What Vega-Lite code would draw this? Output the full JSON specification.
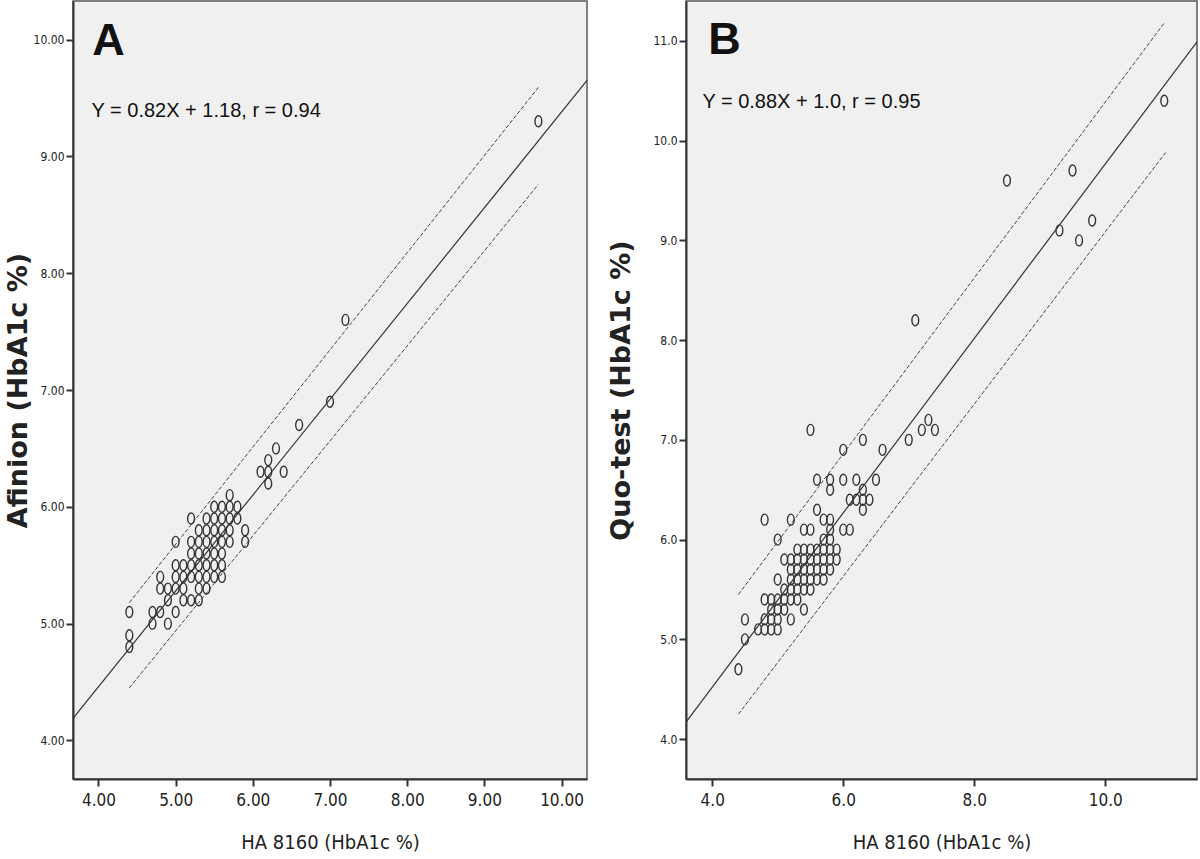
{
  "$schema": "https://vega.github.io/schema/vega-lite/v6.json",
  "background": "white",
  "padding": {"left": 3, "top": 0, "right": 0, "bottom": 0},
  "spacing": 99,
  "bounds": "flush",
  "datasets": {
    "pointsA": [
      {"x":4.4,"y":5.1},{"x":4.4,"y":4.9},{"x":4.4,"y":4.8},
      {"x":4.7,"y":5.1},{"x":4.7,"y":5.0},
      {"x":4.8,"y":5.4},{"x":4.8,"y":5.3},{"x":4.8,"y":5.1},
      {"x":4.9,"y":5.3},{"x":4.9,"y":5.2},{"x":4.9,"y":5.0},
      {"x":5.0,"y":5.7},{"x":5.0,"y":5.5},{"x":5.0,"y":5.4},{"x":5.0,"y":5.3},{"x":5.0,"y":5.1},
      {"x":5.1,"y":5.5},{"x":5.1,"y":5.4},{"x":5.1,"y":5.3},{"x":5.1,"y":5.2},
      {"x":5.2,"y":5.9},{"x":5.2,"y":5.7},{"x":5.2,"y":5.6},{"x":5.2,"y":5.5},{"x":5.2,"y":5.4},{"x":5.2,"y":5.2},
      {"x":5.3,"y":5.8},{"x":5.3,"y":5.7},{"x":5.3,"y":5.6},{"x":5.3,"y":5.5},{"x":5.3,"y":5.4},{"x":5.3,"y":5.3},{"x":5.3,"y":5.2},
      {"x":5.4,"y":5.9},{"x":5.4,"y":5.8},{"x":5.4,"y":5.7},{"x":5.4,"y":5.6},{"x":5.4,"y":5.5},{"x":5.4,"y":5.4},{"x":5.4,"y":5.3},
      {"x":5.5,"y":6.0},{"x":5.5,"y":5.9},{"x":5.5,"y":5.8},{"x":5.5,"y":5.7},{"x":5.5,"y":5.6},{"x":5.5,"y":5.5},{"x":5.5,"y":5.4},
      {"x":5.6,"y":6.0},{"x":5.6,"y":5.9},{"x":5.6,"y":5.8},{"x":5.6,"y":5.7},{"x":5.6,"y":5.6},{"x":5.6,"y":5.5},{"x":5.6,"y":5.4},
      {"x":5.7,"y":6.1},{"x":5.7,"y":6.0},{"x":5.7,"y":5.9},{"x":5.7,"y":5.8},{"x":5.7,"y":5.7},
      {"x":5.8,"y":6.0},{"x":5.8,"y":5.9},
      {"x":5.9,"y":5.8},{"x":5.9,"y":5.7},
      {"x":6.1,"y":6.3},{"x":6.2,"y":6.4},{"x":6.2,"y":6.3},{"x":6.2,"y":6.2},{"x":6.3,"y":6.5},{"x":6.4,"y":6.3},
      {"x":6.6,"y":6.7},{"x":7.0,"y":6.9},{"x":7.2,"y":7.6},{"x":9.7,"y":9.3}
    ],
    "pointsB": [
      {"x":10.9,"y":10.4},{"x":8.5,"y":9.6},{"x":9.5,"y":9.7},{"x":9.3,"y":9.1},{"x":9.6,"y":9.0},{"x":9.8,"y":9.2},
      {"x":7.1,"y":8.2},{"x":5.5,"y":7.1},{"x":7.3,"y":7.2},{"x":7.2,"y":7.1},{"x":7.4,"y":7.1},{"x":7.0,"y":7.0},
      {"x":6.3,"y":7.0},{"x":6.0,"y":6.9},{"x":6.6,"y":6.9},
      {"x":5.6,"y":6.6},{"x":5.8,"y":6.6},{"x":5.8,"y":6.5},{"x":6.0,"y":6.6},{"x":6.2,"y":6.6},{"x":6.5,"y":6.6},
      {"x":6.1,"y":6.4},{"x":6.2,"y":6.4},{"x":6.3,"y":6.5},{"x":6.3,"y":6.4},{"x":6.3,"y":6.3},{"x":6.4,"y":6.4},
      {"x":5.6,"y":6.3},{"x":4.8,"y":6.2},{"x":5.2,"y":6.2},{"x":5.7,"y":6.2},{"x":5.8,"y":6.2},
      {"x":5.4,"y":6.1},{"x":5.5,"y":6.1},{"x":6.0,"y":6.1},{"x":6.1,"y":6.1},{"x":5.8,"y":6.1},
      {"x":5.0,"y":6.0},{"x":5.7,"y":6.0},{"x":5.8,"y":6.0},
      {"x":5.3,"y":5.9},{"x":5.4,"y":5.9},{"x":5.5,"y":5.9},{"x":5.6,"y":5.9},{"x":5.7,"y":5.9},{"x":5.8,"y":5.9},{"x":5.9,"y":5.9},
      {"x":5.1,"y":5.8},{"x":5.2,"y":5.8},{"x":5.3,"y":5.8},{"x":5.4,"y":5.8},{"x":5.5,"y":5.8},{"x":5.6,"y":5.8},{"x":5.7,"y":5.8},{"x":5.8,"y":5.8},{"x":5.9,"y":5.8},
      {"x":5.2,"y":5.7},{"x":5.3,"y":5.7},{"x":5.4,"y":5.7},{"x":5.5,"y":5.7},{"x":5.6,"y":5.7},{"x":5.7,"y":5.7},{"x":5.8,"y":5.7},
      {"x":5.0,"y":5.6},{"x":5.2,"y":5.6},{"x":5.3,"y":5.6},{"x":5.4,"y":5.6},{"x":5.5,"y":5.6},{"x":5.6,"y":5.6},{"x":5.7,"y":5.6},
      {"x":5.1,"y":5.5},{"x":5.2,"y":5.5},{"x":5.3,"y":5.5},{"x":5.4,"y":5.5},{"x":5.5,"y":5.5},
      {"x":4.8,"y":5.4},{"x":4.9,"y":5.4},{"x":5.0,"y":5.4},{"x":5.1,"y":5.4},{"x":5.2,"y":5.4},{"x":5.3,"y":5.4},
      {"x":4.9,"y":5.3},{"x":5.0,"y":5.3},{"x":5.1,"y":5.3},{"x":5.4,"y":5.3},
      {"x":4.5,"y":5.2},{"x":4.8,"y":5.2},{"x":4.9,"y":5.2},{"x":5.0,"y":5.2},{"x":5.2,"y":5.2},
      {"x":4.7,"y":5.1},{"x":4.8,"y":5.1},{"x":4.9,"y":5.1},{"x":5.0,"y":5.1},
      {"x":4.5,"y":5.0},{"x":4.4,"y":4.7}
    ],
    "fitA": [
      {"line":"fit","x":3.67,"y":4.19},{"line":"fit","x":10.33,"y":9.65}
    ],
    "bandA": [
      {"line":"upper","x":4.4,"y":5.18},{"line":"upper","x":9.7,"y":9.59},
      {"line":"lower","x":4.4,"y":4.45},{"line":"lower","x":9.7,"y":8.76}
    ],
    "fitB": [
      {"line":"fit","x":3.6,"y":4.17},{"line":"fit","x":11.4,"y":10.99}
    ],
    "bandB": [
      {"line":"upper","x":4.4,"y":5.45},{"line":"upper","x":10.9,"y":11.18},
      {"line":"lower","x":4.4,"y":4.25},{"line":"lower","x":10.92,"y":9.88}
    ],
    "letterA": [{"x":3.92,"y":9.87,"label":"A"}],
    "eqA": [{"x":3.91,"y":9.34,"label":"Y = 0.82X + 1.18, r = 0.94"}],
    "letterB": [{"x":3.94,"y":10.87,"label":"B"}],
    "eqB": [{"x":3.85,"y":10.33,"label":"Y = 0.88X + 1.0, r = 0.95"}]
  },
  "config": {
    "view": {"fill": "#f0f0f0", "stroke": "#5a5a5a", "strokeWidth": 1.5},
    "axis": {
      "grid": false,
      "domainColor": "#333333",
      "domainWidth": 2,
      "tickColor": "#333333",
      "tickWidth": 2,
      "tickSize": 7,
      "labelColor": "#222222",
      "titleColor": "#222222"
    },
    "axisX": {
      "labelFont": "DejaVu Sans Condensed",
      "labelFontSize": 17,
      "labelPadding": 6,
      "titleFont": "DejaVu Sans Condensed",
      "titleFontSize": 20,
      "titleFontWeight": "normal",
      "titlePadding": 24
    },
    "axisY": {
      "labelFont": "DejaVu Sans Condensed",
      "labelFontSize": 12,
      "labelPadding": 2,
      "titleFont": "DejaVu Sans",
      "titleFontSize": 27,
      "titleFontWeight": "bold"
    }
  },
  "hconcat": [
    {
      "width": 514,
      "height": 778,
      "layer": [
        {
          "data": {"name": "fitA"},
          "mark": {"type": "line", "color": "#333333", "strokeWidth": 1.2},
          "encoding": {
            "x": {"field": "x", "type": "quantitative", "scale": {"domain": [3.67, 10.33], "nice": false, "zero": false},
                  "axis": {"values": [4,5,6,7,8,9,10], "format": ".2f", "title": "HA 8160 (HbA1c %)"}},
            "y": {"field": "y", "type": "quantitative", "scale": {"domain": [3.67, 10.33], "nice": false, "zero": false},
                  "axis": {"values": [4,5,6,7,8,9,10], "format": ".2f", "title": "Afinion (HbA1c %)", "titlePadding": 1}},
            "detail": {"field": "line"}
          }
        },
        {
          "data": {"name": "bandA"},
          "mark": {"type": "line", "color": "#444444", "strokeWidth": 1, "strokeDash": [4, 2]},
          "encoding": {
            "x": {"field": "x", "type": "quantitative"},
            "y": {"field": "y", "type": "quantitative"},
            "detail": {"field": "line"}
          }
        },
        {
          "data": {"name": "pointsA"},
          "mark": {"type": "point", "shape": "M-0.62,0A0.62,1,0,1,0,0.62,0A0.62,1,0,1,0,-0.62,0Z", "size": 121, "filled": false, "stroke": "#333333", "strokeWidth": 1.4, "opacity": 1},
          "encoding": {
            "x": {"field": "x", "type": "quantitative"},
            "y": {"field": "y", "type": "quantitative"}
          }
        },
        {
          "data": {"name": "letterA"},
          "mark": {"type": "text", "font": "Liberation Sans", "fontWeight": "bold", "fontSize": 45, "align": "left", "baseline": "alphabetic", "color": "#111111"},
          "encoding": {
            "x": {"field": "x", "type": "quantitative"},
            "y": {"field": "y", "type": "quantitative"},
            "text": {"field": "label"}
          }
        },
        {
          "data": {"name": "eqA"},
          "mark": {"type": "text", "font": "Liberation Sans", "fontSize": 20, "align": "left", "baseline": "alphabetic", "color": "#111111"},
          "encoding": {
            "x": {"field": "x", "type": "quantitative"},
            "y": {"field": "y", "type": "quantitative"},
            "text": {"field": "label"}
          }
        }
      ]
    },
    {
      "width": 511,
      "height": 778,
      "layer": [
        {
          "data": {"name": "fitB"},
          "mark": {"type": "line", "color": "#333333", "strokeWidth": 1.2},
          "encoding": {
            "x": {"field": "x", "type": "quantitative", "scale": {"domain": [3.6, 11.4], "nice": false, "zero": false},
                  "axis": {"values": [4,6,8,10], "format": ".1f", "title": "HA 8160 (HbA1c %)"}},
            "y": {"field": "y", "type": "quantitative", "scale": {"domain": [3.6, 11.4], "nice": false, "zero": false},
                  "axis": {"values": [4,5,6,7,8,9,10,11], "format": ".1f", "title": "Quo-test (HbA1c %)", "titlePadding": 17}},
            "detail": {"field": "line"}
          }
        },
        {
          "data": {"name": "bandB"},
          "mark": {"type": "line", "color": "#444444", "strokeWidth": 1, "strokeDash": [4, 2]},
          "encoding": {
            "x": {"field": "x", "type": "quantitative"},
            "y": {"field": "y", "type": "quantitative"},
            "detail": {"field": "line"}
          }
        },
        {
          "data": {"name": "pointsB"},
          "mark": {"type": "point", "shape": "M-0.62,0A0.62,1,0,1,0,0.62,0A0.62,1,0,1,0,-0.62,0Z", "size": 121, "filled": false, "stroke": "#333333", "strokeWidth": 1.4, "opacity": 1},
          "encoding": {
            "x": {"field": "x", "type": "quantitative"},
            "y": {"field": "y", "type": "quantitative"}
          }
        },
        {
          "data": {"name": "letterB"},
          "mark": {"type": "text", "font": "Liberation Sans", "fontWeight": "bold", "fontSize": 45, "align": "left", "baseline": "alphabetic", "color": "#111111"},
          "encoding": {
            "x": {"field": "x", "type": "quantitative"},
            "y": {"field": "y", "type": "quantitative"},
            "text": {"field": "label"}
          }
        },
        {
          "data": {"name": "eqB"},
          "mark": {"type": "text", "font": "Liberation Sans", "fontSize": 20, "align": "left", "baseline": "alphabetic", "color": "#111111"},
          "encoding": {
            "x": {"field": "x", "type": "quantitative"},
            "y": {"field": "y", "type": "quantitative"},
            "text": {"field": "label"}
          }
        }
      ]
    }
  ]
}
